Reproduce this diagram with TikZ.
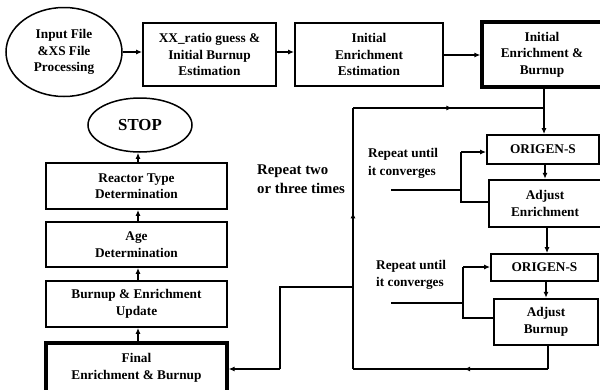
\documentclass[tikz,border=0pt]{standalone}
\usepackage{fontspec}
\setmainfont{Liberation Serif}
\usetikzlibrary{arrows.meta,decorations.markings,shapes.geometric}
\tikzset{
  box/.style={draw, line width=1.8pt, align=center, inner sep=0pt,
    font=\fontsize{13.3}{16.5}\selectfont\bfseries},
  thickbox/.style={box, line width=3.2pt},
  midbox/.style={box, line width=2.4pt},
  oval/.style={draw, ellipse, line width=1.5pt, align=center, inner sep=0pt,
    font=\fontsize{13.3}{16.5}\selectfont\bfseries},
  conn/.style={line width=1.3pt, -{Latex[length=6pt,width=5pt]}},
  plain/.style={line width=1.3pt},
  midarrow/.style={line width=1.3pt, postaction={decorate},
    decoration={markings, mark=at position #1 with {\arrow{Latex[length=6pt,width=5pt]}}}},
  note/.style={align=left, inner sep=0pt, font=\bfseries}
}
\begin{document}
\begin{tikzpicture}[x=1pt,y=-1pt]
\useasboundingbox (0,0) rectangle (600,389);
% top row
\node[oval, minimum width=116pt, minimum height=89pt] (in) at (64,52) {Input File\\\&XS File\\Processing};
\node[box, minimum width=133pt, minimum height=63pt] (xx) at (209.5,54.5) {XX\_ratio guess \&\\Initial Burnup\\Estimation};
\node[box, minimum width=148pt, minimum height=63pt] (ies) at (369,54.5) {Initial\\Enrichment\\Estimation};
\node[thickbox, minimum width=120pt, minimum height=65pt] (ieb) at (542,54.5) {Initial\\Enrichment \&\\Burnup};
% right column
\node[box, minimum width=112pt, minimum height=29pt] (or1) at (543,149.5) {ORIGEN-S};
\node[midbox, minimum width=112pt, minimum height=47pt] (ae) at (545,203.5) {Adjust\\Enrichment};
\node[box, minimum width=107pt, minimum height=27pt] (or2) at (544.5,267.5) {ORIGEN-S};
\node[midbox, minimum width=104pt, minimum height=46pt] (ab) at (546,322) {Adjust\\Burnup};
% left column
\node[oval, minimum width=104pt, minimum height=54pt, font=\fontsize{16.8}{20}\selectfont\bfseries] (stop) at (140,125) {STOP};
\node[box, minimum width=181pt, minimum height=46pt] (rt) at (136.5,186) {Reactor Type\\Determination};
\node[box, minimum width=181pt, minimum height=45pt] (age) at (136.5,244.5) {Age\\Determination};
\node[box, minimum width=181pt, minimum height=46pt] (bu) at (136.5,304) {Burnup \& Enrichment\\Update};
\node[thickbox, minimum width=181pt, minimum height=50pt] (fin) at (136.5,368) {Final\\Enrichment \& Burnup};
% notes
\node[note, anchor=west, font=\fontsize{14.8}{19}\selectfont\bfseries] (rep) at (257,179.5) {Repeat two\\or three times};
\node[note, anchor=west, font=\fontsize{13.3}{18}\selectfont\bfseries] (ru1) at (368,163) {Repeat until\\it converges};
\node[note, anchor=west, font=\fontsize{13.3}{16.5}\selectfont\bfseries] (ru2) at (376,275) {Repeat until\\it converges};
% coordinates
\coordinate (c1) at (548,369);
\coordinate (c2) at (353,369);
\coordinate (c3) at (353,108);
\coordinate (c4) at (544,108);
\coordinate (b1) at (353,287);
\coordinate (b2) at (280,287);
\coordinate (b3) at (280,369);
\coordinate (l1a) at (461,202);
\coordinate (l1b) at (461,152);
\coordinate (f1) at (391,190);
\coordinate (f1e) at (461,190);
\coordinate (l2a) at (463,318);
\coordinate (l2b) at (463,267);
\coordinate (f2) at (391,303);
\coordinate (f2e) at (463,303);
% top row connectors
\draw[conn] (in.east |- 0,52) -- (xx.west |- 0,52);
\draw[conn] (xx.east |- 0,52) -- (ies.west |- 0,52);
\draw[conn] (ies.east |- 0,55) -- (ieb.west |- 0,55);
\draw[plain] (ieb.south -| c4) -- (c4);
\draw[conn] (c4) -- (or1.north -| c4);
% right column
\draw[conn] (or1.south -| 545,0) -- (ae.north -| 545,0);
\draw[conn] (ae.south -| 547,0) -- (or2.north -| 547,0);
\draw[conn] (or2.south -| 546,0) -- (ab.north -| 546,0);
% big loop
\draw[plain] (ab.south -| c1) -- (c1);
\draw[midarrow=0.43] (c1) -- (c2);
\draw[midarrow=0.6] (c2) -- (c3);
\draw[midarrow=0.52] (c3) -- (c4);
% inner loops
\draw[plain] (ae.west |- l1a) -- (l1a) -- (l1b);
\draw[conn] (l1b) -- (or1.west |- l1b);
\draw[plain] (f1) -- (f1e);
\draw[plain] (ab.west |- l2a) -- (l2a) -- (l2b);
\draw[conn] (l2b) -- (or2.west |- l2b);
\draw[plain] (f2) -- (f2e);
% to final
\draw[plain] (b1) -- (b2) -- (b3);
\draw[conn] (b3) -- (fin.east |- b3);
% left column
\draw[conn] (fin.north -| 138,0) -- (bu.south -| 138,0);
\draw[conn] (bu.north -| 138,0) -- (age.south -| 138,0);
\draw[conn] (age.north -| 138,0) -- (rt.south -| 138,0);
\draw[conn] (rt.north -| 138,0) -- (stop.south -| 138,0);
\end{tikzpicture}
\end{document}
